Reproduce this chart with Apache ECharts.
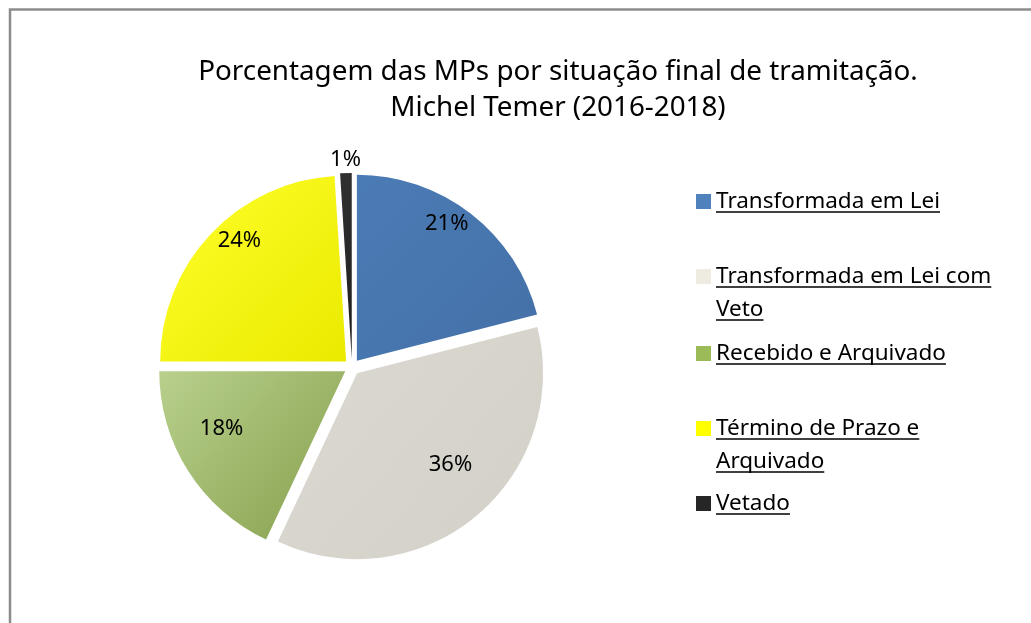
<!DOCTYPE html>
<html>
<head>
<meta charset="utf-8">
<script src="https://cdn.jsdelivr.net/npm/echarts@6/dist/echarts.min.js"></script>
<style>
  html, body { margin: 0; padding: 0; background: #fff; }
  #grafico { width: 1031px; height: 623px; }
</style>
</head>
<body>
<div id="grafico"></div>
<script>
// dados
const categorias = ['Transformada em Lei', 'Transformada em Lei com Veto', 'Recebido e Arquivado', 'Término de Prazo e Arquivado', 'Vetado'];
const percentuais = [21, 36, 18, 24, 1];
const rotulosLegenda = ['Transformada em Lei', 'Transformada em Lei com\nVeto', 'Recebido e Arquivado', 'Término de Prazo e\nArquivado', 'Vetado'];
const titulo = 'Porcentagem das MPs por situação final de tramitação.\nMichel Temer (2016-2018)';

// estilos
const coresFatia = [
  ['#4b7bb6', '#4470a6'],
  ['#dcd9d2', '#d3d0c8'],
  ['#b8d08c', '#869f4c'],
  ['#ffff2a', '#eaea00'],
  ['#303030', '#1e1e1e']
];
const coresLegenda = ['#4f81bd', '#eeece1', '#9bbb59', '#ffff00', '#262626'];
const topoLegenda = [200, 275, 352, 427, 502]; // centro da primeira linha de cada item
const fonte = '"Noto Sans", sans-serif';
const tamLegenda = 22.5;
const alturaLinha = 33;

const chart = echarts.init(document.getElementById('grafico'));

const centro = [352, 367];
const raio = 186;
// os rótulos internos ficam num anel transparente um pouco acima (efeito 3D do original)
const centroRotulos = [352, 346];

function fatias(comCor, explodida) {
  return categorias.map(function (nome, i) {
    return {
      name: nome,
      value: percentuais[i],
      selected: explodida,
      itemStyle: comCor ? {
        color: new echarts.graphic.LinearGradient(0, 0, 1, 1, [
          { offset: 0, color: coresFatia[i][0] },
          { offset: 1, color: coresFatia[i][1] }
        ])
      } : { color: 'rgba(0,0,0,0)' }
    };
  });
}

// uma legenda por linha de texto; a segunda linha leva um ícone invisível
const legendas = [];
const sublinhados = [];
const ctx = document.createElement('canvas').getContext('2d');
ctx.font = tamLegenda + 'px ' + fonte;
categorias.forEach(function (nome, i) {
  rotulosLegenda[i].split('\n').forEach(function (linha, k) {
    const yLinha = topoLegenda[i] + k * alturaLinha;
    legendas.push({
      orient: 'vertical',
      left: 696,
      top: yLinha - 10,
      padding: 0,
      itemWidth: 15,
      itemHeight: 15,
      icon: 'rect',
      selectedMode: false,
      formatter: function () { return linha; },
      textStyle: {
        fontFamily: fonte,
        fontSize: tamLegenda,
        color: '#000'
      },
      data: [{ name: nome, itemStyle: { color: k === 0 ? coresLegenda[i] : 'rgba(0,0,0,0)' } }]
    });
    const w = ctx.measureText(linha).width;
    sublinhados.push({
      type: 'line',
      silent: true,
      shape: { x1: 716, y1: yLinha + 12, x2: 716 + w, y2: yLinha + 12 },
      style: { stroke: '#000', lineWidth: 1.4 }
    });
  });
});

const option = {
  backgroundColor: '#fff',
  animation: false,
  title: {
    text: titulo,
    left: 553,
    top: 49,
    textAlign: 'center',
    textStyle: {
      fontFamily: fonte,
      fontSize: 27.8,
      fontWeight: 'normal',
      color: '#000',
      lineHeight: 36
    }
  },
  legend: legendas,
  graphic: [{
    type: 'rect',
    silent: true,
    shape: { x: 10, y: 9.5, width: 1030, height: 700 },
    style: { fill: 'none', stroke: '#8c8c8c', lineWidth: 2.5 }
  }].concat(sublinhados),
  series: [
    {
      name: 'fatias',
      type: 'pie',
      z: 2,
      center: centro,
      radius: [0, raio],
      startAngle: 90,
      clockwise: true,
      selectedMode: 'multiple',
      selectedOffset: 8,
      label: { show: false },
      labelLine: { show: false },
      emphasis: { scale: false },
      data: fatias(true, true)
    },
    {
      name: 'rotulos',
      type: 'pie',
      z: 6,
      silent: true,
      center: centroRotulos,
      radius: [122, 181],
      startAngle: 90,
      clockwise: true,
      label: {
        show: true,
        position: 'inside',
        formatter: function (p) { return p.value >= 5 ? p.value + '%' : ''; },
        fontFamily: fonte,
        fontSize: 22,
        color: '#000'
      },
      labelLine: { show: false },
      emphasis: { disabled: true },
      data: fatias(false, false)
    },
    {
      name: 'rotulosExternos',
      type: 'pie',
      z: 6,
      silent: true,
      center: centro,
      radius: [raio + 8, raio + 28],
      startAngle: 90,
      clockwise: true,
      label: {
        show: true,
        position: 'inside',
        formatter: function (p) { return p.value < 5 ? p.value + '%' : ''; },
        fontFamily: fonte,
        fontSize: 22,
        color: '#000'
      },
      labelLine: { show: false },
      emphasis: { disabled: true },
      data: fatias(false, false)
    }
  ]
};

option && chart.setOption(option);
</script>
</body>
</html>
